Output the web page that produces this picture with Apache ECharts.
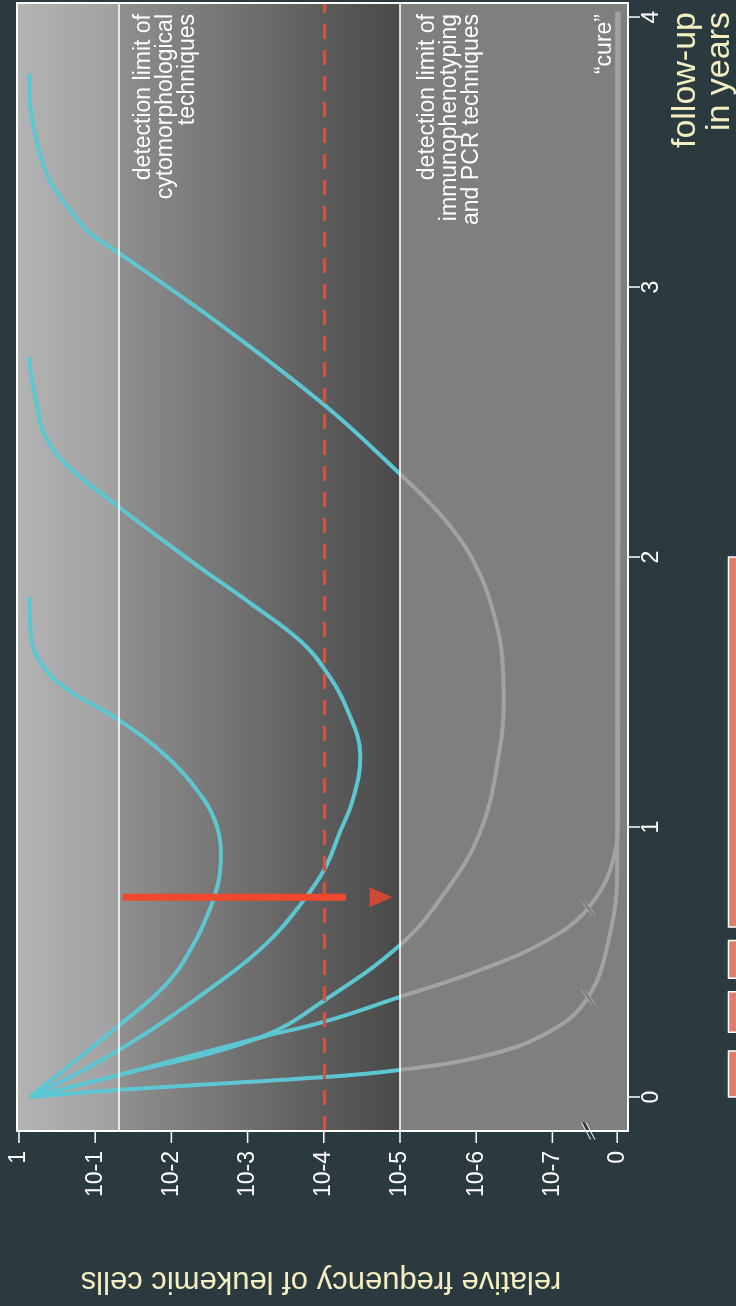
<!DOCTYPE html>
<html>
<head>
<meta charset="utf-8">
<script src="https://cdn.jsdelivr.net/npm/echarts@6/dist/echarts.min.js"></script>
<style>
  html, body { margin: 0; padding: 0; background: #2b3a3e; }
  #chart { width: 736px; height: 1306px; }
</style>
</head>
<body>
<div id="chart"></div>
<script>
// Horizontal axis: leukemic cell frequency as log10 (1 = 0, 10^-7 = -7).
// "0" sits just past a broken segment after 10^-7.
const ZERO_POS = -7.85;
const BREAK_POS = -7.47;

const freqTickPos = [0, -1, -2, -3, -4, -5, -6, -7, ZERO_POS];
const freqTickLabels = ['1', '10-1', '10-2', '10-3', '10-4', '10-5', '10-6', '10-7', '0'];
const yearTicks = [0, 1, 2, 3, 4];

const cytoLimit = -1.31;     // detection limit of cytomorphological techniques
const pcrLimit = -5;         // detection limit of immunophenotyping and PCR
const mrdThreshold = -4;     // dashed threshold line

// Patient courses: [year, log10 frequency]
const relapseEarly = [
  [0, -0.14], [0.26, -1.29], [0.42, -1.94], [0.57, -2.30], [0.70, -2.51],
  [0.80, -2.62], [0.90, -2.65], [1.00, -2.60], [1.10, -2.43], [1.26, -1.94],
  [1.40, -1.29], [1.51, -0.63], [1.59, -0.33], [1.70, -0.16], [1.85, -0.14]
];
const relapseMid = [
  [0, -0.14], [0.17, -1.29], [0.42, -2.60], [0.58, -3.29], [0.73, -3.74],
  [0.85, -4.02], [0.98, -4.21], [1.10, -4.38], [1.26, -4.48], [1.44, -4.30],
  [1.58, -4.02], [1.69, -3.69], [1.83, -3.03], [1.96, -2.38], [2.07, -1.85],
  [2.19, -1.29], [2.34, -0.63], [2.45, -0.34], [2.56, -0.24], [2.67, -0.16],
  [2.74, -0.14]
];
const relapseLate = [
  [0, -0.14], [0.08, -1.29], [0.22, -3.16], [0.36, -4.02], [0.56, -4.99],
  [0.73, -5.52], [0.98, -6.05], [1.29, -6.31], [1.48, -6.36], [1.66, -6.33],
  [1.79, -6.23], [1.91, -6.09], [2.04, -5.85], [2.17, -5.49], [2.31, -4.99],
  [2.56, -4.02], [2.87, -2.60], [3.13, -1.29], [3.20, -0.93], [3.30, -0.63],
  [3.39, -0.41], [3.49, -0.28], [3.61, -0.18], [3.71, -0.14], [3.79, -0.14]
];
const curedLate = [
  [0, -0.14], [0.08, -1.29], [0.22, -3.16], [0.28, -4.02], [0.37, -4.99],
  [0.47, -6.05], [0.58, -6.93], [0.70, BREAK_POS], [0.88, -7.80], [1.04, -7.86],
  [4.02, -7.87]
];
const curedEarly = [
  [0, -0.14], [0.026, -1.29], [0.074, -4.02], [0.10, -4.99], [0.148, -6.05],
  [0.237, -6.93], [0.37, BREAK_POS], [0.61, -7.76], [0.85, -7.85], [4.02, -7.85]
];

// Therapy reduction arrow at one time point
const arrowYear = 0.74;
const arrowFrom = -1.36;
const arrowTo = -4.29;
const arrowHead = -4.75;

// Treatment phases along the follow-up axis [start, end] in years
const phaseStart = [0, 0.24, 0.44, 0.63];
const phaseEnd = [0.17, 0.39, 0.58, 2.0];

const CYAN = '#5cc7d3';
const GRAY_CURVE = '#a2a2a2';
const RED = '#ef482e';
const CREAM = '#f3efc2';
const BG = '#2b3a3e';
const FONT = '"Liberation Sans", Arial, Helvetica, sans-serif';

const Y_MIN = -0.126, Y_MAX = 4.052;
const X_MIN = -7.992, X_MAX = 0.026;

const curves = [relapseEarly, relapseMid, relapseLate, curedLate, curedEarly];
const curveNames = ['relapse early', 'relapse intermediate', 'relapse late', 'cure late', 'cure early'];

const chart = echarts.init(document.getElementById('chart'), null, { renderer: 'canvas' });

const curveSeries = curves.map((c, i) => ({
  type: 'line',
  name: curveNames[i],
  data: c.map(p => [p[1], p[0]]),
  smooth: 0.4,
  symbol: 'none',
  lineStyle: { width: 4 },
  z: 3,
  silent: true
}));

// Break marks where the cured courses pass the axis break, plus one on the axis itself
const breakPoints = [curedLate, curedEarly].map(c => {
  const p = c.find(q => q[1] === BREAK_POS);
  return [p[1], p[0], 0];
});
breakPoints.push([BREAK_POS, Y_MIN, 1]);

function breakMark(params, api) {
  const pt = api.coord([api.value(0), api.value(1)]);
  const onAxis = api.value(2) === 1;
  const cx = pt[0], cy = pt[1];
  const dx = onAxis ? 4.5 : 5.2, dy = onAxis ? 8.5 : 7.5, gap = onAxis ? 2.2 : 2;
  const fill = onAxis ? '#333b3d' : '#7f7f7f';
  const stroke = onAxis ? '#ffffff' : '#a8a8a8';
  return {
    type: 'group',
    children: [
      { type: 'polygon', shape: { points: [[cx - gap - dx, cy - dy], [cx + gap - dx, cy - dy], [cx + gap + dx, cy + dy], [cx - gap + dx, cy + dy]] }, style: { fill: fill } },
      { type: 'line', shape: { x1: cx - gap - dx, y1: cy - dy, x2: cx - gap + dx, y2: cy + dy }, style: { stroke: stroke, lineWidth: 1 } },
      { type: 'line', shape: { x1: cx + gap - dx, y1: cy - dy, x2: cx + gap + dx, y2: cy + dy }, style: { stroke: stroke, lineWidth: 1 } }
    ]
  };
}

// Tick marks: frequency ticks hang below the plot, year ticks stick out to the right
const tickData = freqTickPos.map(v => [v, Y_MIN, 0]).concat(yearTicks.map(t => [X_MIN, t, 1]));
function tickMark(params, api) {
  const pt = api.coord([api.value(0), api.value(1)]);
  const vertical = api.value(2) === 0;
  return {
    type: 'line',
    shape: vertical
      ? { x1: pt[0], y1: pt[1], x2: pt[0], y2: pt[1] + 12 }
      : { x1: pt[0], y1: pt[1], x2: pt[0] + 12, y2: pt[1] },
    style: { stroke: '#ffffff', lineWidth: 1.5 }
  };
}

function phaseBar(params, api) {
  const top = api.coord([0, api.value(1)])[1];
  const bottom = api.coord([0, api.value(0)])[1];
  return {
    type: 'rect',
    shape: { x: 728.5, y: top, width: 20, height: bottom - top },
    style: { fill: '#df7c6b', stroke: '#ffffff', lineWidth: 1.5 }
  };
}

const option = {
  backgroundColor: BG,
  animation: false,
  grid: {
    left: 17, right: 108, top: 3, bottom: 175,
    show: true, backgroundColor: '#7f7f7f', borderWidth: 0
  },
  xAxis: {
    type: 'value', min: X_MIN, max: X_MAX, inverse: true, position: 'bottom',
    axisLine: { show: false },
    splitLine: { show: false },
    axisTick: { show: false },
    axisLabel: {
      customValues: freqTickPos, rotate: 90, margin: 20,
      color: '#fff', fontSize: 23, fontFamily: FONT,
      formatter: v => {
        const i = freqTickPos.findIndex(p => Math.abs(p - v) < 1e-6);
        return i >= 0 ? freqTickLabels[i] : '';
      }
    }
  },
  yAxis: {
    type: 'value', min: Y_MIN, max: Y_MAX, position: 'right',
    axisLine: { show: false },
    splitLine: { show: false },
    axisTick: { show: false },
    axisLabel: {
      customValues: yearTicks, rotate: 90, margin: 12,
      color: '#fff', fontSize: 23, fontFamily: FONT,
      formatter: v => String(Math.round(v))
    }
  },
  visualMap: {
    type: 'piecewise', show: false, dimension: 0,
    seriesIndex: [0, 1, 2, 3, 4],
    pieces: [
      { min: pcrLimit, max: 1, color: CYAN },
      { min: -9, max: pcrLimit, color: GRAY_CURVE }
    ]
  },
  series: [
    ...curveSeries,
    // shaded detection zones
    {
      type: 'line', data: [], z: 1, silent: true,
      markArea: {
        silent: true,
        data: [
          [{ xAxis: X_MAX, itemStyle: { color: { type: 'linear', x: 0, y: 0, x2: 1, y2: 0, colorStops: [{ offset: 0, color: '#b3b3b3' }, { offset: 1, color: '#a0a0a0' }] } } }, { xAxis: cytoLimit }],
          [{ xAxis: cytoLimit, itemStyle: { color: { type: 'linear', x: 0, y: 0, x2: 1, y2: 0, colorStops: [{ offset: 0, color: '#8f8f8f' }, { offset: 1, color: '#494949' }] } } }, { xAxis: pcrLimit }]
        ]
      }
    },
    // detection limit lines
    {
      type: 'line', data: [], z: 2, silent: true,
      markLine: {
        silent: true, symbol: ['none', 'none'], label: { show: false },
        lineStyle: { color: '#ffffff', width: 1.6, type: 'solid' },
        data: [{ xAxis: cytoLimit }, { xAxis: pcrLimit }]
      }
    },
    // dashed threshold
    {
      type: 'line', data: [], z: 5, silent: true,
      markLine: {
        silent: true, symbol: ['none', 'none'], label: { show: false },
        lineStyle: { color: RED, width: 3.2, type: [15, 11] },
        data: [{ xAxis: mrdThreshold }]
      }
    },
    // arrow shaft
    {
      type: 'line', data: [[arrowFrom, arrowYear], [arrowTo, arrowYear]],
      symbol: 'none', z: 6, silent: true,
      lineStyle: { color: RED, width: 7, cap: 'butt' }
    },
    // arrow head
    {
      type: 'scatter', data: [[arrowHead, arrowYear]], z: 6, silent: true,
      symbol: 'path://M0,0L23,10L0,20Z', symbolSize: [23, 20],
      itemStyle: { color: RED }
    },
    // axis break marks
    {
      type: 'custom', coordinateSystem: 'cartesian2d', data: breakPoints, z: 7, silent: true, clip: false,
      renderItem: breakMark
    },
    // axis ticks
    {
      type: 'custom', coordinateSystem: 'cartesian2d', data: tickData, z: 7, silent: true, clip: false,
      renderItem: tickMark
    },
    // treatment phases
    {
      type: 'custom', coordinateSystem: 'cartesian2d', z: 7, silent: true, clip: false,
      data: phaseStart.map((s, i) => [s, phaseEnd[i]]),
      renderItem: phaseBar
    }
  ],
  graphic: [
    { type: 'rect', z: 50, shape: { x: 17, y: 3, width: 611, height: 1128 }, style: { fill: 'none', stroke: '#ffffff', lineWidth: 2 }, silent: true },
    {
      type: 'text', z: 60, x: 166, y: 14, rotation: Math.PI / 2,
      style: { text: 'detection limit of\ncytomorphological\ntechniques', fill: '#ffffff', font: '23px ' + FONT, lineHeight: 22, align: 'right', verticalAlign: 'middle' }
    },
    {
      type: 'text', z: 60, x: 450, y: 14, rotation: Math.PI / 2,
      style: { text: 'detection limit of\nimmunophenotyping\nand PCR techniques', fill: '#ffffff', font: '23px ' + FONT, lineHeight: 22, align: 'right', verticalAlign: 'middle' }
    },
    {
      type: 'text', z: 60, x: 605, y: 14, rotation: Math.PI / 2,
      style: { text: '\u201Ccure\u201D', fill: '#ffffff', font: '23px ' + FONT, align: 'right', verticalAlign: 'middle' }
    },
    {
      type: 'text', z: 60, x: 703, y: 12, rotation: Math.PI / 2,
      style: { text: 'follow-up\nin years', fill: CREAM, font: '34px ' + FONT, lineHeight: 34, align: 'right', verticalAlign: 'middle' }
    },
    {
      type: 'text', z: 60, x: 321, y: 1281, rotation: Math.PI,
      style: { text: 'relative frequency of leukemic cells', fill: CREAM, font: '31px ' + FONT, align: 'center', verticalAlign: 'middle' }
    }
  ]
};

chart.setOption(option);
</script>
</body>
</html>
